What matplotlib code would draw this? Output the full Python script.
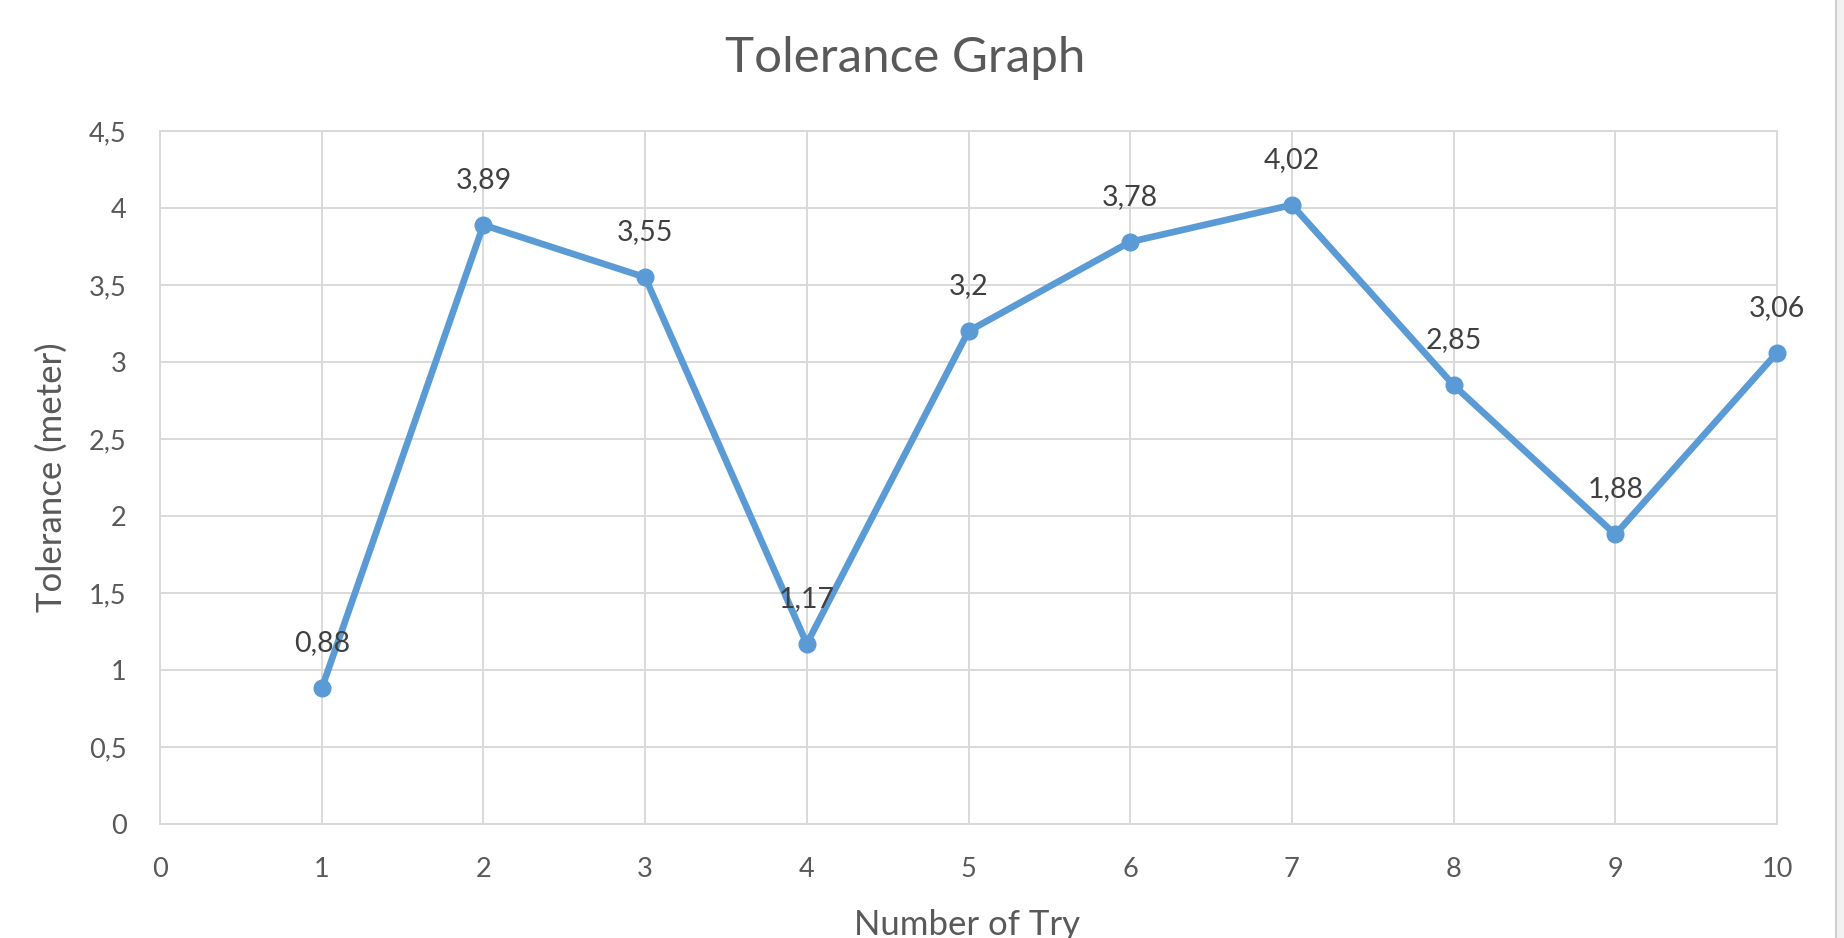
import matplotlib.pyplot as plt
from matplotlib.lines import Line2D
from matplotlib.patches import Rectangle

tries = [1, 2, 3, 4, 5, 6, 7, 8, 9, 10]
tolerance = [0.88, 3.89, 3.55, 1.17, 3.2, 3.78, 4.02, 2.85, 1.88, 3.06]
labels = ["0,88", "3,89", "3,55", "1,17", "3,2", "3,78", "4,02", "2,85", "1,88", "3,06"]
yticks = [0, 0.5, 1, 1.5, 2, 2.5, 3, 3.5, 4, 4.5]
yticklabels = ["0", "0,5", "1", "1,5", "2", "2,5", "3", "3,5", "4", "4,5"]

plt.rcParams['font.family'] = ['Lato', 'DejaVu Sans']
text_col = "#595959"
grid_col = "#D9D9D9"

fig = plt.figure(figsize=(18.44, 9.38), dpi=100)
ax = fig.add_axes([160/1844, 1 - 824/938, (1777-160)/1844, (824-131)/938])

ax.plot(tries, tolerance, color="#5B9BD5", linewidth=4.8, marker="o",
        markersize=12, zorder=3, clip_on=False)
for x, y, t in zip(tries, tolerance, labels):
    ax.annotate(t, (x, y), xytext=(0, 23), textcoords="offset points",
                ha="center", va="bottom", fontsize=20.5, color="#404040", zorder=4)

ax.set_xlim(0, 10)
ax.set_ylim(0, 4.5)
ax.set_xticks(range(0, 11))
ax.set_yticks(yticks)
ax.set_yticklabels(yticklabels)
ax.tick_params(length=0, labelsize=19.5, labelcolor=text_col)
ax.tick_params(axis="y", pad=24)
ax.tick_params(axis="x", pad=24)
ax.grid(True, color=grid_col, linewidth=1.4)
ax.set_axisbelow(True)
for s in ax.spines.values():
    s.set_color(grid_col)
    s.set_linewidth(1.4)

fig.text(52/1844, 0.5 * ((938-131)/938 + (938-824)/938), "Tolerance (meter)",
         rotation=90, ha="center", va="center", fontsize=25, color=text_col)
fig.text(967/1844, 1 - 935/938, "Number of Try", ha="center", va="baseline",
         fontsize=25, color=text_col)
fig.text(905/1844, 1 - 72/938, "Tolerance Graph", ha="center", va="baseline",
         fontsize=35.5, color=text_col)

# right border of the chart area
fig.patches.append(Rectangle((1837/1844, 0), 7/1844, 1, transform=fig.transFigure,
                             facecolor="#F2F2F2", edgecolor="none"))
fig.lines.append(Line2D([1836/1844, 1836/1844], [0, 1], transform=fig.transFigure,
                        color="#D0D0D0", linewidth=1.5))

fig.savefig("out.png", dpi=100)
